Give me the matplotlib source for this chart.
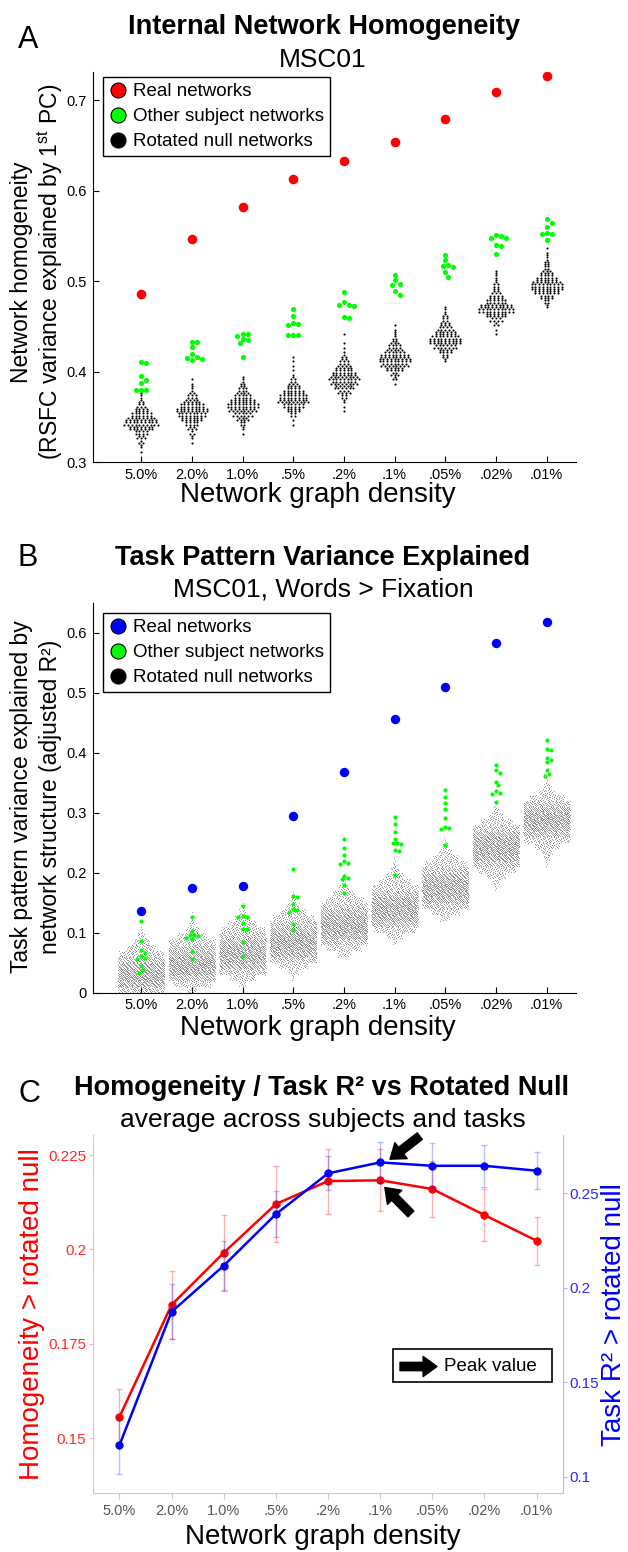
import numpy as np
import matplotlib
matplotlib.use('Agg')
import matplotlib.pyplot as plt
from matplotlib.lines import Line2D
from matplotlib.patches import Rectangle

plt.rcParams['font.family'] = ['Liberation Sans', 'DejaVu Sans']
plt.rcParams['mathtext.fontset'] = 'custom'
plt.rcParams['mathtext.rm'] = 'Liberation Sans'
plt.rcParams['mathtext.it'] = 'Liberation Sans:italic'

densities = ['5.0%', '2.0%', '1.0%', '.5%', '.2%', '.1%', '.05%', '.02%', '.01%']
x = np.arange(1, 10)

# ---------------- panel A : homogeneity ----------------
homog_real = [0.486, 0.546, 0.582, 0.613, 0.633, 0.654, 0.679, 0.709, 0.727]
homog_other = [
    [0.410, 0.409, 0.395, 0.391, 0.387, 0.380, 0.380, 0.380],
    [0.433, 0.433, 0.427, 0.419, 0.416, 0.415, 0.414, 0.413],
    [0.442, 0.441, 0.439, 0.436, 0.435, 0.431, 0.416],
    [0.469, 0.461, 0.454, 0.452, 0.451, 0.440, 0.440, 0.440],
    [0.488, 0.477, 0.474, 0.473, 0.472, 0.460, 0.459],
    [0.507, 0.501, 0.497, 0.496, 0.489, 0.485],
    [0.529, 0.523, 0.518, 0.517, 0.516, 0.510, 0.505],
    [0.551, 0.550, 0.548, 0.547, 0.540, 0.539, 0.530],
    [0.568, 0.564, 0.560, 0.553, 0.552, 0.552, 0.545],
]
# rotated null networks, histogram counts per 0.005 bin
homog_null_start = [0.310, 0.320, 0.330, 0.340, 0.355, 0.385, 0.410, 0.440, 0.470]
homog_null_counts = [
    [1, 2, 3, 5, 8, 14, 19, 17, 12, 8, 5, 3, 2, 1],
    [1, 2, 3, 5, 8, 12, 16, 18, 14, 9, 6, 3, 2, 1, 1],
    [1, 2, 4, 7, 11, 15, 18, 14, 10, 7, 5, 3, 2],
    [1, 1, 4, 8, 12, 17, 16, 12, 8, 5, 3, 1, 1, 1, 1, 1],
    [1, 1, 2, 4, 7, 11, 15, 17, 14, 10, 7, 5, 3, 1, 1, 1, 0, 1],
    [1, 3, 5, 10, 15, 18, 16, 11, 8, 5, 3, 2, 1, 1],
    [2, 4, 8, 13, 18, 17, 12, 9, 6, 4, 3, 2, 1],
    [1, 1, 3, 7, 12, 20, 18, 12, 8, 5, 4, 3, 2, 2, 1],
    [2, 4, 8, 14, 18, 17, 12, 8, 5, 4, 3, 2, 1, 1],
]

# ---------------- panel B : task variance ----------------
task_real = [0.136, 0.175, 0.178, 0.294, 0.368, 0.456, 0.510, 0.583, 0.618]
task_other = [
    [0.120, 0.087, 0.071, 0.066, 0.061, 0.058, 0.057, 0.044, 0.038, 0.033],
    [0.126, 0.103, 0.097, 0.096, 0.094, 0.092, 0.090, 0.070, 0.057],
    [0.144, 0.128, 0.127, 0.126, 0.117, 0.107, 0.106, 0.085, 0.061],
    [0.206, 0.161, 0.160, 0.148, 0.140, 0.138, 0.135, 0.115, 0.105],
    [0.256, 0.241, 0.230, 0.219, 0.216, 0.214, 0.195, 0.192, 0.189, 0.180, 0.166],
    [0.293, 0.281, 0.268, 0.256, 0.250, 0.249, 0.248, 0.238, 0.236, 0.196],
    [0.338, 0.326, 0.317, 0.306, 0.291, 0.277, 0.275, 0.273, 0.246],
    [0.379, 0.371, 0.366, 0.352, 0.346, 0.337, 0.333, 0.332, 0.318],
    [0.421, 0.407, 0.404, 0.391, 0.388, 0.384, 0.371, 0.365, 0.361],
]
# rotated null networks, histogram counts per 0.01 bin
task_null_start = [0.00, 0.00, 0.01, 0.02, 0.06, 0.08, 0.12, 0.17, 0.21]
task_null_counts = [
    [90, 140, 160, 150, 130, 105, 70, 45, 25, 12, 4],
    [15, 60, 110, 150, 165, 155, 130, 100, 75, 45, 20, 8, 3, 1],
    [10, 40, 85, 125, 150, 160, 150, 125, 95, 70, 45, 25, 10, 4],
    [3, 15, 45, 95, 135, 155, 160, 150, 125, 95, 65, 40, 20, 8, 3],
    [20, 55, 100, 140, 160, 160, 145, 120, 90, 60, 35, 15, 6, 2],
    [5, 25, 65, 110, 145, 160, 155, 135, 105, 75, 50, 28, 12, 4, 1],
    [15, 45, 90, 130, 155, 160, 150, 125, 95, 65, 40, 20, 8, 3],
    [3, 10, 30, 60, 100, 135, 155, 160, 150, 120, 85, 50, 22, 8, 3],
    [3, 8, 18, 40, 75, 115, 145, 160, 155, 130, 95, 55, 25, 10, 3],
]

# ---------------- panel C : vs rotated null ----------------
homog_vs_null = [0.1556, 0.1853, 0.1991, 0.2120, 0.2181, 0.2183, 0.2160, 0.2091, 0.2023]
homog_err = [0.0074, 0.0090, 0.0101, 0.0100, 0.0086, 0.0082, 0.0075, 0.0068, 0.0064]
task_vs_null = [0.1166, 0.1873, 0.2117, 0.2390, 0.2606, 0.2664, 0.2646, 0.2646, 0.2620]
task_err = [0.0150, 0.0145, 0.0130, 0.0120, 0.0090, 0.0110, 0.0120, 0.0110, 0.0097]

W, H = 628, 1552
fig = plt.figure(figsize=(W / 100, H / 100), dpi=100)


def fx(px):
    return px / W


def fy(py):
    return 1 - py / H


def rect(l, t, r, b):
    return [fx(l), fy(b), (r - l) / W, (b - t) / H]


def spread_rows(center, start, step, counts, nrows, dx, cap):
    # swarm-like rows of dots inside each histogram bin
    xs, ys = [], []
    for b, n in enumerate(counts):
        per = [n // nrows + (1 if r < n % nrows else 0) for r in range(nrows)]
        for r, m in enumerate(per):
            if m == 0:
                continue
            yv = start + step * b + step * (r + 0.5) / nrows
            w = min(m * dx, cap)
            sp = w / m
            for k in range(m):
                xs.append(center + (k - (m - 1) / 2) * sp)
                ys.append(yv)
    return xs, ys


def spread_cloud(center, start, step, counts, dx, cap):
    # plotSpread-like cloud: width grows with bin count up to a cap
    xs, ys = [], []
    for b, n in enumerate(counts):
        w = min(n * dx, cap)
        for i in range(n):
            ys.append(start + step * b + step * (i + 0.5) / n)
            xs.append(center + w * (((i * 0.6180339887 + b * 0.37) % 1) - 0.5))
    return xs, ys


def swarm(vals, dx, dy):
    vals = np.asarray(vals)
    order = np.argsort(vals)[::-1]
    placed = []
    offs = np.zeros(len(vals))
    for i in order:
        v = vals[i]
        for k in [0, 1, -1, 2, -2, 3, -3, 4, -4, 5, -5]:
            o = k * 0.5 * dx
            if all(((o - po) / dx) ** 2 + ((v - pv) / dy) ** 2 >= 0.95 for po, pv in placed):
                break
        placed.append((o, v))
        offs[i] = o
    return offs


def style_swarm_axes(ax):
    ax.spines['top'].set_visible(False)
    ax.spines['right'].set_visible(False)
    ax.tick_params(direction='in', length=4, width=0.8, labelsize=10.5, pad=4)
    ax.set_xticks(x)
    ax.set_xticklabels(densities)


def swarm_legend(ax, real_color, top):
    handles = [Line2D([], [], ls='none', marker='o', markersize=10.8, markerfacecolor=c,
                      markeredgecolor='k', markeredgewidth=0.8)
               for c in [real_color, '#00ff00', 'black']]
    leg = ax.legend(handles, ['Real networks', 'Other subject networks', 'Rotated null networks'],
                    loc='upper left', bbox_to_anchor=(0.022, top), borderaxespad=0,
                    fontsize=13.5, frameon=True, fancybox=False, framealpha=1,
                    edgecolor='black', handletextpad=0.3, labelspacing=0.42,
                    borderpad=0.3, handlelength=1.0)
    leg.get_frame().set_linewidth(1.0)


# ===== Panel A =====
axA = fig.add_axes(rect(92.5, 72, 576, 462))
for i in range(9):
    bx, by = spread_rows(x[i], homog_null_start[i], 0.005, homog_null_counts[i], 2, 0.074, 0.9)
    axA.scatter(bx, by, s=2.3, c='black', linewidths=0, zorder=2)
    g = homog_other[i]
    axA.scatter(x[i] + swarm(g, 0.1, 0.0056), g, s=14, c='#00ff00', linewidths=0, zorder=3)
axA.scatter(x, homog_real, s=48, c='#ff0000', linewidths=0, zorder=4)
axA.set_xlim(0.04, 9.58)
axA.set_ylim(0.3, 0.731)
axA.set_yticks([0.3, 0.4, 0.5, 0.6, 0.7])
axA.set_yticklabels(['0.3', '0.4', '0.5', '0.6', '0.7'])
style_swarm_axes(axA)
swarm_legend(axA, '#ff0000', 0.986)

fig.text(fx(28), fy(40), 'A', fontsize=22, ha='center', va='center')
fig.text(fx(324), fy(27), 'Internal Network Homogeneity', fontsize=19.5, fontweight='bold',
         ha='center', va='center')
fig.text(fx(323), fy(60), 'MSC01', fontsize=19, ha='center', va='center')
fig.text(fx(22), fy(272), 'Network homogeneity', fontsize=16.5, rotation=90,
         ha='center', va='center')
fig.text(fx(50), fy(272), '(RSFC variance explained by 1$^{\\mathrm{st}}$ PC)', fontsize=16.5,
         rotation=90, ha='center', va='center')
fig.text(fx(318), fy(495), 'Network graph density', fontsize=20, ha='center', va='center')

# ===== Panel B =====
axB = fig.add_axes(rect(92.5, 603.3, 576, 992.7))
for i in range(9):
    bx, by = spread_cloud(x[i], task_null_start[i], 0.01, task_null_counts[i], 0.0125, 0.92)
    axB.scatter(bx, by, s=0.22, c='#4a4a4a', linewidths=0, zorder=2)
    g = task_other[i]
    axB.scatter(x[i] + swarm(g, 0.08, 0.0068), g, s=9, c='#00ff00', linewidths=0, zorder=3)
axB.scatter(x, task_real, s=46, c='#0000ff', linewidths=0, zorder=4)
axB.set_xlim(0.04, 9.58)
axB.set_ylim(0, 0.649)
axB.set_yticks([0, 0.1, 0.2, 0.3, 0.4, 0.5, 0.6])
axB.set_yticklabels(['0', '0.1', '0.2', '0.3', '0.4', '0.5', '0.6'])
style_swarm_axes(axB)
swarm_legend(axB, '#0000ff', 0.974)

fig.text(fx(28), fy(558), 'B', fontsize=22, ha='center', va='center')
fig.text(fx(323), fy(558), 'Task Pattern Variance Explained', fontsize=19.5, fontweight='bold',
         ha='center', va='center')
fig.text(fx(323), fy(590), 'MSC01, Words > Fixation', fontsize=19, ha='center', va='center')
fig.text(fx(22), fy(797), 'Task pattern variance explained by', fontsize=16.5, rotation=90,
         ha='center', va='center')
fig.text(fx(51), fy(797), 'network structure (adjusted R²)', fontsize=16.5, rotation=90,
         ha='center', va='center')
fig.text(fx(318), fy(1028), 'Network graph density', fontsize=20, ha='center', va='center')

# ===== Panel C =====
axC = fig.add_axes(rect(93.3, 1135, 562.7, 1493))
axC2 = axC.twinx()
axC.errorbar(x, homog_vs_null, yerr=homog_err, color='#ff0000', lw=1.8, marker='o', ms=5,
             ecolor=(1, 0, 0, 0.3), elinewidth=1, capsize=2, zorder=3)
axC2.errorbar(x, task_vs_null, yerr=task_err, color='#0000ff', lw=1.8, marker='o', ms=5,
              ecolor=(0, 0, 1, 0.25), elinewidth=1, capsize=2, zorder=3)
axC.set_xlim(0.5, 9.5)
axC.set_ylim(0.1355, 0.2303)
axC2.set_ylim(0.0914, 0.2809)
axC.set_xticks(x)
axC.set_xticklabels(densities)
axC.set_yticks([0.15, 0.175, 0.2, 0.225])
axC.set_yticklabels(['0.15', '0.175', '0.2', '0.225'])
axC2.set_yticks([0.1, 0.15, 0.2, 0.25])
axC2.set_yticklabels(['0.1', '0.15', '0.2', '0.25'])
for sp in ['top', 'right']:
    axC.spines[sp].set_visible(False)
for sp in ['top', 'left', 'bottom']:
    axC2.spines[sp].set_visible(False)
axC.spines['left'].set_color('#ffb4b4')
axC.spines['bottom'].set_color('#c8c8d8')
axC2.spines['right'].set_color('#b4b4ff')
axC.tick_params(axis='y', colors='#ffb4b4', labelcolor='#ff2a2a', labelsize=11, length=3, pad=2)
axC.tick_params(axis='x', colors='#c8c8d8', labelcolor='#555555', labelsize=10.5, length=4, pad=4)
axC2.tick_params(axis='y', colors='#b4b4ff', labelcolor='#2a2aff', labelsize=11, length=3, pad=1.5)

arrow_style = 'simple,head_length=1.0,head_width=1.45,tail_width=0.6'
axC.annotate('', xy=(6.19, 0.2239), xytext=(6.76, 0.2300),
             arrowprops=dict(arrowstyle=arrow_style, color='black', mutation_scale=10,
                             shrinkA=0, shrinkB=0), annotation_clip=False, zorder=6)
axC.annotate('', xy=(6.09, 0.2164), xytext=(6.59, 0.2094),
             arrowprops=dict(arrowstyle=arrow_style, color='black', mutation_scale=10,
                             shrinkA=0, shrinkB=0), annotation_clip=False, zorder=6)

# legend box "Peak value"
box = Rectangle((fx(393), fy(1382)), (552 - 393) / W, (1382 - 1349) / H,
                transform=fig.transFigure, facecolor='white', edgecolor='black',
                linewidth=1.2, zorder=5)
fig.add_artist(box)
peak_arrow = plt.Annotation('', xy=(fx(437), fy(1366.5)), xytext=(fx(400), fy(1366.5)),
                            xycoords='figure fraction', textcoords='figure fraction',
                            arrowprops=dict(arrowstyle=arrow_style, color='black',
                                            mutation_scale=10, shrinkA=0, shrinkB=0))
peak_arrow.set_zorder(7)
fig.add_artist(peak_arrow)
fig.text(fx(444), fy(1366.5), 'Peak value', fontsize=13.5, ha='left', va='center', zorder=7)

fig.text(fx(29), fy(1094), 'C', fontsize=22, ha='center', va='center')
fig.text(fx(322), fy(1088), 'Homogeneity / Task R² vs Rotated Null', fontsize=19.5,
         fontweight='bold', ha='center', va='center')
fig.text(fx(323), fy(1120), 'average across subjects and tasks', fontsize=19,
         ha='center', va='center')
fig.text(fx(32), fy(1314), 'Homogeneity > rotated null', fontsize=20, color='#ff0000',
         rotation=90, ha='center', va='center')
fig.text(fx(614), fy(1315), 'Task R² > rotated null', fontsize=20, color='#0000ff',
         rotation=90, ha='center', va='center')
fig.text(fx(323), fy(1537), 'Network graph density', fontsize=20, ha='center', va='center')

fig.savefig('out.png', dpi=100)
